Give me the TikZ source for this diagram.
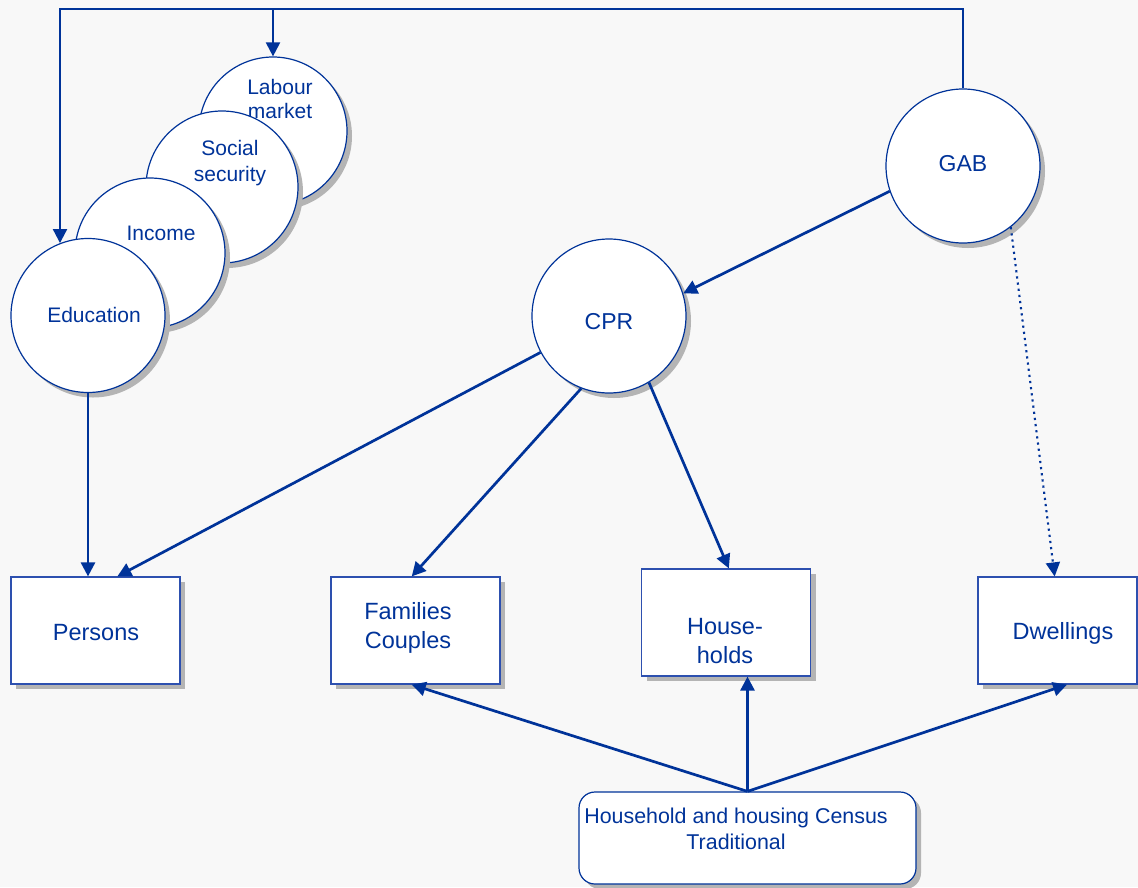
\documentclass[tikz,border=0pt]{standalone}
\usepackage{fontspec}
\setmainfont{Liberation Sans}
\usetikzlibrary{arrows.meta,shadows,calc}
\definecolor{ink}{RGB}{0,51,153}
\definecolor{edge}{RGB}{45,80,175}
\definecolor{paper}{RGB}{248,248,248}
\definecolor{shade}{RGB}{180,180,180}

\tikzset{
  sh/.style={drop shadow={shadow xshift=5pt,shadow yshift=-5pt,fill=shade,opacity=1}},
  bubble/.style={circle,draw=ink,line width=1.2pt,fill=white,inner sep=0pt,
    minimum size=#1,sh,text=ink},
  unit/.style={rectangle,draw=edge,line width=1.2pt,fill=white,
    minimum width=169pt,minimum height=107pt,sh,text=ink},
  lbl/.style={text=ink,align=center,inner sep=0pt},
  small/.style={font=\fontsize{21}{24}\selectfont},
  mid/.style={font=\fontsize{23}{27}\selectfont},
  big/.style={font=\fontsize{23.5}{28.5}\selectfont},
  flow/.style={draw=ink,line width=2.7pt,-{Triangle[length=14pt,width=14pt]}},
  thin flow/.style={flow,line width=2.1pt},
}

\begin{document}
\begin{tikzpicture}[x=1pt,y=-1pt]
\fill[paper] (0,0) rectangle (1138,887);
\useasboundingbox (0,0) rectangle (1138,887);

% stacked register circles
\node[bubble=148pt] (lab) at (273,131) {};
\node[lbl,small] (labt) at (280,99) {Labour\\market};
\node[bubble=152pt] (soc) at (222,187) {};
\node[lbl,font=\fontsize{21}{26}\selectfont] (soct) at (230,163) {Social\\security};
\node[bubble=150pt] (inc) at (150,253) {};
\node[lbl,small] (inct) at (161,233) {Income};
\node[bubble=154pt] (edu) at (88,315.5) {};
\node[lbl,small] (edut) at (94,315) {Education};

% base registers
\node[bubble=154pt] (gab) at (963,166) {};
\node[lbl,mid] (gabt) at (963,164) {GAB};
\node[bubble=154pt] (cpr) at (609,316) {};
\node[lbl,mid] (cprt) at (609,322) {CPR};

% statistical units
\node[unit] (persons) at (95.5,630.5) {};
\node[lbl,big] (perst) at (96,633) {Persons};
\node[unit] (fam) at (415.5,630.5) {};
\node[lbl,big] (famt) at (408,628) {Families\\Couples};
\node[unit] (hh) at (726,622.5) {};
\node[lbl,big] (hht) at (725,641) {House-\\holds};
\node[unit,minimum width=159pt] (dw) at (1057.5,630.5) {};
\node[lbl,big] (dwt) at (1063,633) {Dwellings};

% census
\node[rectangle,rounded corners=16pt,draw=ink,line width=1.2pt,fill=white,sh,
  minimum width=337pt,minimum height=92pt] (census) at (747.5,838) {};
\node[lbl,font=\fontsize{21.4}{26}\selectfont] (censust) at (736,829)
  {Household and housing Census\\Traditional};

% top feedback line from GAB
\coordinate (corner) at (60,9);
\draw[thin flow] (gab.north) |- (corner) -- (corner |- edu.111.3);
\draw[thin flow] (lab.north |- corner) -- (lab.north);

% register links
\draw[flow] (gab.199.3) -- (cpr.17.8);
\draw[thin flow,dash pattern=on 2.2pt off 4pt] (gab.308.4) -- (dw.93.2);
\draw[flow] (edu.south) -- (edu.south |- persons.north);
\draw[flow] (cpr.208.9) -- (persons.68);
\draw[flow] (cpr.249) -- (fam.94);
\draw[flow] (cpr.301.4) -- (hh.87);

% census links
\draw[flow] (census.north) -- (fam.266.3);
\draw[flow] (census.north) -- (census.north |- hh.south);
\draw[flow] (census.north) -- (dw.280.6);
\end{tikzpicture}
\end{document}
